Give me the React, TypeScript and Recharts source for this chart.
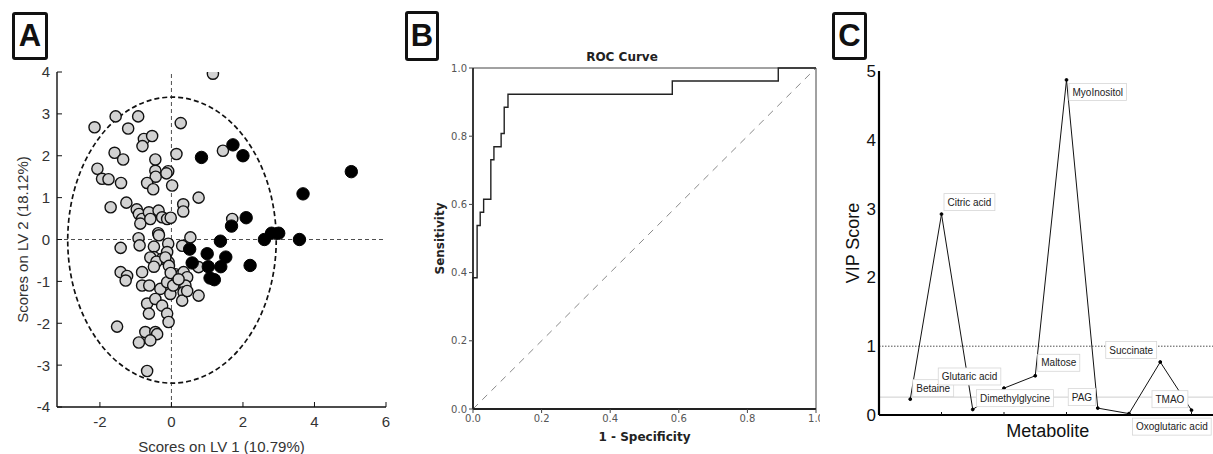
import React from "react";
import {
  ScatterChart,
  Scatter,
  LineChart,
  Line,
  XAxis,
  YAxis,
  ReferenceLine,
  ReferenceArea,
  LabelList,
} from "recharts";

// ---- panel A: scores on LV1 / LV2 ----
const controlScores: [number, number][] = [
  [1.16, 3.96], [-2.15, 2.68], [-1.56, 2.94], [-0.93, 2.94], [-1.21, 2.65],
  [0.26, 2.78], [-0.77, 2.4], [-0.54, 2.47], [-0.81, 2.23], [-1.59, 2.07],
  [-1.35, 1.91], [-0.45, 1.91], [0.14, 2.04], [1.44, 2.12], [-2.07, 1.69],
  [-1.94, 1.45], [-1.76, 1.44], [-1.41, 1.35], [-0.45, 1.64], [-0.44, 1.5],
  [-0.09, 1.63], [-0.14, 1.58], [-0.68, 1.35], [-0.51, 1.2], [0.02, 1.29],
  [0.76, 1.0], [-1.7, 0.77], [-1.26, 0.88], [0.33, 0.84], [0.33, 0.67],
  [-0.97, 0.72], [-0.91, 0.61], [-0.82, 0.49], [-0.87, 0.38], [-0.63, 0.65],
  [-0.59, 0.49], [-0.36, 0.69], [-0.26, 0.53], [-0.12, 0.49], [-0.02, 0.52],
  [-0.37, 0.15], [-0.92, 0.03], [-0.89, -0.14], [-1.42, -0.2], [-0.35, 0.1],
  [-0.49, -0.17], [-0.09, -0.1], [0.3, -0.15], [0.53, 0.05], [1.7, 0.49],
  [-0.49, -0.42], [-0.26, -0.46], [-0.12, -0.3], [-0.08, -0.54], [-0.59, -0.43],
  [-0.42, -0.53], [-0.49, -0.65], [-0.17, -0.43], [-0.07, -0.63], [-1.42, -0.78],
  [-1.24, -0.87], [-1.28, -0.98], [-0.82, -0.78], [-0.82, -1.1], [-0.62, -1.1],
  [-0.31, -1.18], [-0.12, -1.02], [-0.03, -1.3], [0.11, -0.83], [0.25, -0.86],
  [0.34, -0.78], [0.44, -0.9], [0.2, -1.02], [0.39, -1.1], [0.34, -1.26],
  [0.3, -1.46], [0.44, -1.23], [0.76, -0.66], [0.76, -1.34], [-0.68, -1.53],
  [-0.45, -1.42], [-0.26, -1.58], [-0.63, -1.77], [-0.12, -1.77], [-0.08, -1.97],
  [-1.52, -2.08], [-0.73, -2.21], [-0.45, -2.21], [-0.4, -2.26], [-0.59, -2.41],
  [-0.91, -2.46], [-0.68, -3.14], [-0.02, -0.8], [0.05, -1.1], [0.2, -0.95],
];
const caseScores: [number, number][] = [
  [0.84, 1.96], [1.72, 2.26], [2.0, 2.0], [5.03, 1.62], [3.68, 1.09],
  [2.09, 0.52], [1.68, 0.32], [1.37, -0.04], [2.6, 0.0], [2.8, 0.15],
  [3.0, 0.15], [3.58, 0.0], [0.51, -0.23], [1.0, -0.34], [1.52, -0.42],
  [0.58, -0.56], [1.03, -0.65], [1.38, -0.65], [1.08, -0.92], [1.2, -0.96],
  [2.2, -0.62],
];
const scoreTicksX = [-2, 0, 2, 4, 6];
const scoreTicksY = [-4, -3, -2, -1, 0, 1, 2, 3, 4];
const ellipseX: [number, number] = [-2.9, 2.93];
const ellipseY: [number, number] = [-3.43, 3.4];

// ---- panel B: ROC curve ----
const rocFpr = [0, 0, 0.012, 0.021, 0.031, 0.052, 0.061, 0.082, 0.091, 0.102, 0.581, 0.89, 1];
const rocTpr = [0, 0.385, 0.538, 0.577, 0.615, 0.731, 0.769, 0.808, 0.885, 0.923, 0.962, 1, 1];
const rocTicks = [0, 0.2, 0.4, 0.6, 0.8, 1];

// ---- panel C: VIP scores ----
const metabolites = [
  "Betaine", "Citric acid", "Glutaric acid", "Dimethylglycine", "Maltose",
  "MyoInositol", "PAG", "Oxoglutaric acid", "Succinate", "TMAO",
];
const vipScores = [0.23, 2.92, 0.08, 0.39, 0.57, 4.87, 0.1, 0.02, 0.77, 0.07];
const vipTicks = [0, 1, 2, 3, 4, 5];
const metaboliteTicks = [1, 2, 3, 4, 5];
const vipCutoff = 1;
const vipBaseline = 0.26;

// where each name box sits relative to its point
const vipLabelOffset: Record<string, [number, number]> = {
  Betaine: [6, -11],
  "Citric acid": [6, -12],
  "Glutaric acid": [-31, -33],
  Dimethylglycine: [-24, 10],
  Maltose: [6, -13],
  MyoInositol: [6, 12],
  PAG: [-26, -11],
  "Oxoglutaric acid": [7, 13],
  Succinate: [-51, -12],
  TMAO: [-36, -11],
};

const controlData = controlScores.map(([x, y]) => ({ x, y }));
const caseData = caseScores.map(([x, y]) => ({ x, y }));
const rocData = rocFpr.map((fpr, i) => ({ fpr, tpr: rocTpr[i] }));
const vipData = metabolites.map((name, i) => ({ name, pos: (i + 1) / 2, vip: vipScores[i] }));

const HELV = "'Liberation Sans', Arial, Helvetica, sans-serif";
const DEJAVU = "'DejaVu Sans', Verdana, sans-serif";

let measureCtx: CanvasRenderingContext2D | null = null;
function textWidth(s: string, font: string) {
  if (!measureCtx && typeof document !== "undefined") {
    measureCtx = document.createElement("canvas").getContext("2d");
  }
  if (!measureCtx) return s.length * 5.3;
  measureCtx.font = font;
  return measureCtx.measureText(s).width;
}

// ticks drawn inside the frame, optional label outside
const inwardTick =
  (side: "bottom" | "left" | "top" | "right", len: number, label?: { size: number; color: string; font: string; gap: number }) =>
  (props: any) => {
    const { x, y, payload } = props;
    let mark;
    if (side === "bottom") mark = <line x1={x} x2={x} y1={y} y2={y - len} />;
    else if (side === "top") mark = <line x1={x} x2={x} y1={y} y2={y + len} />;
    else if (side === "left") mark = <line x1={x} x2={x + len} y1={y} y2={y} />;
    else mark = <line x1={x} x2={x - len} y1={y} y2={y} />;
    let text = null;
    if (label) {
      if (side === "bottom")
        text = (
          <text x={x} y={y + label.gap} textAnchor="middle" fontSize={label.size} fill={label.color} fontFamily={label.font} stroke="none">
            {payload.value}
          </text>
        );
      else if (side === "left")
        text = (
          <text x={x - label.gap} y={y + label.size * 0.36} textAnchor="end" fontSize={label.size} fill={label.color} fontFamily={label.font} stroke="none">
            {payload.value}
          </text>
        );
    }
    return (
      <g stroke="#111" strokeWidth={1}>
        {mark}
        {text}
      </g>
    );
  };

function ScoresPlot() {
  const lab = { size: 15, color: "#333", font: HELV, gap: 20 };
  return (
    <ScatterChart width={400} height={454} margin={{ top: 72, right: 14, bottom: 0, left: 0 }}>
      <XAxis
        type="number"
        dataKey="x"
        domain={[-3.2, 6]}
        ticks={scoreTicksX}
        interval={0}
        allowDataOverflow
        height={47}
        tickSize={0}
        tickMargin={0}
        tickLine={false}
        axisLine={{ stroke: "#111", strokeWidth: 1.4 }}
        tick={inwardTick("bottom", 5, lab)}
        label={{ value: "Scores on LV 1 (10.79%)", position: "insideBottom", offset: 2, fontSize: 15, fill: "#333", fontFamily: HELV }}
      />
      <XAxis
        xAxisId="top"
        orientation="top"
        type="number"
        domain={[-3.2, 6]}
        ticks={scoreTicksX}
        interval={0}
        allowDataOverflow
        height={0}
        tickSize={0}
        tickMargin={0}
        tickLine={false}
        axisLine={{ stroke: "#111", strokeWidth: 1.4 }}
        tick={inwardTick("top", 5)}
      />
      <YAxis
        type="number"
        dataKey="y"
        domain={[-4, 4]}
        ticks={scoreTicksY}
        interval={0}
        allowDataOverflow
        width={57}
        tickSize={0}
        tickMargin={0}
        tickLine={false}
        axisLine={{ stroke: "#111", strokeWidth: 1.4 }}
        tick={inwardTick("left", 5, { ...lab, gap: 7 })}
        label={{ value: "Scores on LV 2 (18.12%)", angle: -90, position: "insideLeft", offset: 23, fontSize: 15, fill: "#333", fontFamily: HELV, style: { textAnchor: "middle" } }}
      />
      <YAxis
        yAxisId="right"
        orientation="right"
        type="number"
        domain={[-4, 4]}
        ticks={scoreTicksY}
        interval={0}
        allowDataOverflow
        width={0}
        tickSize={0}
        tickMargin={0}
        tickLine={false}
        axisLine={{ stroke: "#111", strokeWidth: 1.4 }}
        tick={inwardTick("right", 5)}
      />
      <ReferenceLine x={0} stroke="#222" strokeWidth={0.8} strokeDasharray="4 3" />
      <ReferenceLine y={0} stroke="#222" strokeWidth={0.8} strokeDasharray="4 3" />
      <ReferenceArea
        x1={ellipseX[0]}
        x2={ellipseX[1]}
        y1={ellipseY[0]}
        y2={ellipseY[1]}
        shape={(p: any) => (
          <ellipse
            cx={p.x + p.width / 2}
            cy={p.y + p.height / 2}
            rx={Math.abs(p.width / 2)}
            ry={Math.abs(p.height / 2)}
            fill="none"
            stroke="#111"
            strokeWidth={1.7}
            strokeDasharray="5 3"
          />
        )}
      />
      <Scatter
        data={controlData}
        isAnimationActive={false}
        shape={(p: any) => <circle cx={p.cx} cy={p.cy} r={5.6} fill="#d2d2d2" stroke="#111" strokeWidth={1.4} />}
      />
      <Scatter
        data={caseData}
        isAnimationActive={false}
        shape={(p: any) => <circle cx={p.cx} cy={p.cy} r={6.2} fill="#000" stroke="#000" strokeWidth={1} />}
      />
    </ScatterChart>
  );
}

function RocPlot() {
  const tickStyle = { fontSize: 10, fill: "#555", fontFamily: DEJAVU };
  return (
    <LineChart width={430} height={454} data={rocData} margin={{ top: 68, right: 14, bottom: 0, left: 0 }}>
      <XAxis
        type="number"
        dataKey="fpr"
        domain={[0, 1]}
        ticks={rocTicks}
        interval={0}
        height={45}
        tickSize={4}
        tickMargin={2}
        tickFormatter={(v: number) => v.toFixed(1)}
        tick={tickStyle}
        tickLine={{ stroke: "#444" }}
        axisLine={{ stroke: "#222", strokeWidth: 1.8 }}
        label={{ value: "1 - Specificity", position: "insideTop", offset: 23, fontSize: 12, fontWeight: "bold", fill: "#222", fontFamily: DEJAVU }}
      />
      <YAxis
        type="number"
        domain={[0, 1]}
        ticks={rocTicks}
        interval={0}
        width={73}
        tickSize={4}
        tickMargin={2}
        tickFormatter={(v: number) => v.toFixed(1)}
        tick={tickStyle}
        tickLine={{ stroke: "#444" }}
        axisLine={{ stroke: "#222", strokeWidth: 1.8 }}
        label={{ value: "Sensitivity", angle: -90, position: "insideLeft", offset: 40, fontSize: 12, fontWeight: "bold", fill: "#222", fontFamily: DEJAVU, style: { textAnchor: "middle" } }}
      />
      <ReferenceLine y={1} stroke="#444" strokeWidth={1} />
      <ReferenceLine x={1} stroke="#444" strokeWidth={1} />
      <ReferenceLine
        segment={[
          { x: 0, y: 0 },
          { x: 1, y: 1 },
        ]}
        stroke="#8a8a8a"
        strokeWidth={1}
        strokeDasharray="7 6"
      />
      <Line type="stepAfter" dataKey="tpr" stroke="#222" strokeWidth={1.4} dot={false} isAnimationActive={false} />
    </LineChart>
  );
}

const VipLabel = (props: any) => {
  const { x, y, value } = props;
  const off = vipLabelOffset[value] ?? [6, -12];
  const tx = x + off[0];
  const ty = y + off[1];
  const w = textWidth(String(value), `10px ${HELV}`);
  return (
    <g>
      <rect x={tx - 3.5} y={ty - 8.5} width={w + 7} height={17} fill="#fff" stroke="#d6d6d6" strokeWidth={0.8} />
      <text x={tx} y={ty + 3.6} fontSize={10} fontFamily={HELV} fill="#222">
        {value}
      </text>
    </g>
  );
};

function VipPlot() {
  return (
    <LineChart width={400} height={454} data={vipData} margin={{ top: 71, right: 3.5, bottom: 0, left: 0 }}>
      <XAxis
        type="number"
        dataKey="pos"
        domain={[0, 5.4]}
        ticks={metaboliteTicks}
        interval={0}
        allowDataOverflow
        height={39}
        tickSize={0}
        tickMargin={0}
        tickLine={false}
        axisLine={{ stroke: "#000", strokeWidth: 2.2 }}
        tick={inwardTick("bottom", 3)}
        label={{ value: "Metabolite", position: "insideTop", offset: 9, fontSize: 18, fill: "#111", fontFamily: HELV }}
      />
      <XAxis
        xAxisId="top"
        orientation="top"
        type="number"
        domain={[0, 5.4]}
        ticks={metaboliteTicks}
        interval={0}
        allowDataOverflow
        height={0}
        tickSize={0}
        tickMargin={0}
        tickLine={false}
        axisLine={{ stroke: "#000", strokeWidth: 2.2 }}
        tick={inwardTick("top", 3)}
      />
      <YAxis
        type="number"
        domain={[0, 5]}
        ticks={vipTicks}
        interval={0}
        allowDataOverflow
        width={59}
        tickSize={0}
        tickMargin={3}
        tickLine={false}
        tick={{ fontSize: 17, fill: "#111", fontFamily: HELV }}
        axisLine={{ stroke: "#000", strokeWidth: 2.2 }}
        label={{ value: "VIP Score", angle: -90, position: "insideLeft", offset: 33, fontSize: 18, fill: "#111", fontFamily: HELV, style: { textAnchor: "middle" } }}
      />
      <ReferenceLine y={vipBaseline} stroke="#cfcfcf" strokeWidth={1} />
      <ReferenceLine y={vipCutoff} stroke="#222" strokeWidth={0.8} strokeDasharray="1.5 1.5" />
      <Line
        type="linear"
        dataKey="vip"
        stroke="#111"
        strokeWidth={1}
        dot={{ r: 1.4, fill: "#000", stroke: "#000" }}
        isAnimationActive={false}
      >
        <LabelList dataKey="name" content={VipLabel} />
      </Line>
    </LineChart>
  );
}

function PanelTag({ letter, left, top, width, height }: { letter: string; left: number; top: number; width: number; height: number }) {
  return (
    <div
      style={{
        position: "absolute",
        left,
        top,
        width,
        height,
        boxSizing: "border-box",
        border: "3px solid #111",
        borderRadius: 3,
        background: "#fff",
        display: "flex",
        alignItems: "center",
        justifyContent: "center",
        fontFamily: HELV,
        fontWeight: "bold",
        fontSize: 31,
        color: "#111",
      }}
    >
      {letter}
    </div>
  );
}

export default function App() {
  return (
    <div style={{ position: "absolute", left: 0, top: 0, width: 1213, height: 454, overflow: "hidden", background: "#fff" }}>
      <div style={{ position: "absolute", left: 0, top: 0 }}>
        <ScoresPlot />
      </div>
      <div style={{ position: "absolute", left: 400, top: 0 }}>
        <RocPlot />
      </div>
      <div style={{ position: "absolute", left: 820, top: 0, background: "#fff" }}>
        <VipPlot />
      </div>
      <div
        style={{
          position: "absolute",
          left: 522,
          top: 49,
          width: 200,
          textAlign: "center",
          fontFamily: DEJAVU,
          fontWeight: "bold",
          fontSize: 12,
          lineHeight: "16px",
          color: "#222",
        }}
      >
        ROC Curve
      </div>
      <PanelTag letter="A" left={12} top={12} width={36} height={48} />
      <PanelTag letter="B" left={405} top={11} width={34} height={50} />
      <PanelTag letter="C" left={832} top={12} width={35} height={48} />
    </div>
  );
}
